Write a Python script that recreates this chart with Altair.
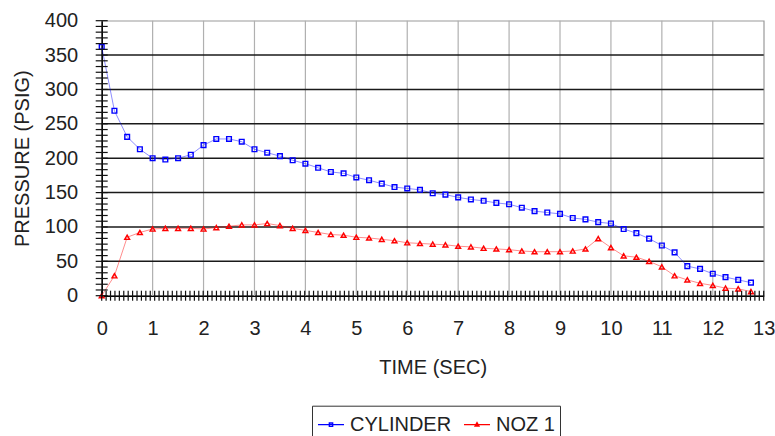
import altair as alt
import pandas as pd

# ---- data ----
time_sec = [0.0, 0.25, 0.5, 0.75, 1.0, 1.25, 1.5, 1.75, 2.0, 2.25, 2.5, 2.75,
            3.0, 3.25, 3.5, 3.75, 4.0, 4.25, 4.5, 4.75, 5.0, 5.25, 5.5, 5.75,
            6.0, 6.25, 6.5, 6.75, 7.0, 7.25, 7.5, 7.75, 8.0, 8.25, 8.5, 8.75,
            9.0, 9.25, 9.5, 9.75, 10.0, 10.25, 10.5, 10.75, 11.0, 11.25, 11.5,
            11.75, 12.0, 12.25, 12.5, 12.75]
cylinder = [362, 269, 231, 213, 200, 198, 200, 205, 219, 228, 228, 224,
            213, 208, 203, 197, 192, 186, 180, 178, 172, 168, 163, 158,
            156, 154, 149, 147, 143, 140, 138, 135, 133, 128, 123, 121,
            119, 113, 111, 107, 105, 97, 91, 83, 73, 63, 43,
            39, 32, 27, 23, 19]
noz1 = [0, 29, 85, 92, 97, 98, 98, 98, 97, 99, 101, 103,
        103, 105, 102, 98, 95, 92, 89, 88, 85, 84, 82, 80,
        77, 76, 75, 74, 72, 71, 69, 68, 67, 65, 64, 64,
        64, 65, 68, 83, 70, 58, 56, 50, 42, 29, 23,
        18, 15, 11, 10, 6]
series_names = ["CYLINDER", "NOZ 1"]
x_tick_values = [0, 1, 2, 3, 4, 5, 6, 7, 8, 9, 10, 11, 12, 13]
y_tick_values = [0, 50, 100, 150, 200, 250, 300, 350, 400]
y_grid_values = [50, 100, 150, 200, 250, 300, 350]
x_grid_values = [1, 2, 3, 4, 5, 6, 7, 8, 9, 10, 11, 12]

df = pd.DataFrame({
    "time": time_sec * 2,
    "pressure": cylinder + noz1,
    "series": [series_names[0]] * len(time_sec) + [series_names[1]] * len(time_sec),
})

W, H = 662, 275
FONT = "Liberation Sans"
TXT = "#222222"
BLUE = "#0000ff"
RED = "#ff0000"

xscale = alt.Scale(domain=[0, 13], nice=False, zero=False)
yscale = alt.Scale(domain=[0, 400], nice=False)

x_axis = alt.Axis(values=x_tick_values, grid=False, ticks=False, domainColor="#000",
                  domainWidth=1.5, labelFont=FONT, labelFontSize=20, labelColor=TXT,
                  labelPadding=23, labelFlush=False, title="TIME (SEC)", titleFont=FONT,
                  titleFontSize=20, titleFontWeight="normal", titleColor=TXT,
                  titleX=W / 2, titleY=78, titleBaseline="alphabetic", titleAlign="center")
y_axis = alt.Axis(values=y_tick_values, grid=False, ticks=False, domainColor="#000",
                  domainWidth=1.5, labelFont=FONT, labelFontSize=20, labelColor=TXT,
                  labelPadding=24, labelFlush=False, title="PRESSURE (PSIG)", titleFont=FONT,
                  titleFontSize=20, titleFontWeight="normal", titleColor=TXT,
                  titleX=-79, titleY=H / 2, titleBaseline="middle", titleAlign="center",
                  titleAngle=-90)

def X(field):
    return alt.X(field, scale=xscale, axis=x_axis)

def Y(field):
    return alt.Y(field, scale=yscale, axis=y_axis)

# gridlines
ygrid = alt.Chart(pd.DataFrame({"g": y_grid_values})).mark_rule(
    color="#1a1a1a", strokeWidth=1.5
).encode(y=Y("g:Q"))

xgrid = alt.Chart(pd.DataFrame({"g": x_grid_values})).mark_rule(
    color="#b0b0b0", strokeWidth=1.2
).encode(x=X("g:Q"))

# minor ticks crossing the axes
yminor = alt.Chart(alt.sequence(0, 400.1, 400 / 48, as_="m")).mark_rule(
    color="#111111", strokeWidth=1.2
).encode(y=Y("m:Q"), x=alt.value(-6), x2=alt.value(6))

xminor = alt.Chart(alt.sequence(0, 13.01, 13 / 150, as_="m")).mark_rule(
    color="#111111", strokeWidth=1.2
).encode(x=X("m:Q"), y=alt.value(H - 5), y2=alt.value(H + 5))

base = alt.Chart(df)

def line_layer(name, color):
    return base.transform_filter(alt.datum.series == name).mark_line(
        color=color, strokeWidth=1, opacity=0.45
    ).encode(x=X("time:Q"), y=Y("pressure:Q"))

def point_layer(name, color, shape, size):
    return base.transform_filter(alt.datum.series == name).mark_point(
        color=color, shape=shape, size=size, strokeWidth=1.4, filled=False, opacity=1
    ).encode(x=X("time:Q"), y=Y("pressure:Q"))

path_cyl = "M-1,0H1M-0.13,-0.13H0.13V0.13H-0.13Z"
path_noz = "M-1,0H1M0,-0.16L0.15,0.1H-0.15Z"

legend_layer = base.mark_point(opacity=0, filled=False).encode(
    x=X("time:Q"),
    y=Y("pressure:Q"),
    color=alt.Color("series:N", scale=alt.Scale(domain=series_names, range=[BLUE, RED]),
                    legend=alt.Legend(title=None)),
    shape=alt.Shape("series:N", scale=alt.Scale(domain=series_names, range=[path_cyl, path_noz]),
                    legend=alt.Legend(title=None)),
)

chart = alt.layer(
    xgrid, ygrid,
    line_layer("CYLINDER", BLUE), line_layer("NOZ 1", RED),
    point_layer("CYLINDER", BLUE, "square", 22),
    point_layer("NOZ 1", RED, "triangle-up", 24),
    xminor, yminor,
    legend_layer,
).properties(
    width=W, height=H,
    autosize=alt.AutoSizeParams(type="none"),
    padding={"left": 101.7, "top": 20.7, "right": 11.3, "bottom": 140.3},
    background="white",
).configure_view(
    stroke="#9a9a9a", strokeWidth=1.2
).configure_legend(
    orient="none", legendX=210.3, legendY=385, direction="horizontal",
    strokeColor="#333333", padding=5, cornerRadius=0,
    labelFont=FONT, labelFontSize=20, labelColor=TXT, labelOffset=5,
    columnPadding=9, symbolSize=676, symbolStrokeWidth=1.3, symbolOpacity=1,
    symbolFillColor="transparent",
)

chart.save("out.html", embed_options={"renderer": "svg", "actions": False})
